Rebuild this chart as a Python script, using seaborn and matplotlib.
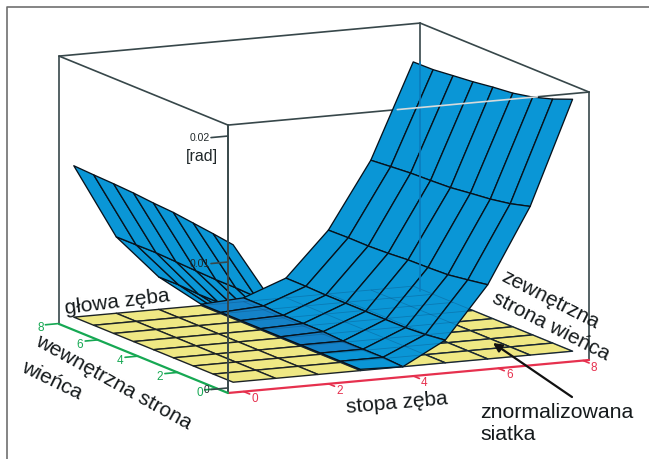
import numpy as np
import matplotlib
matplotlib.use("Agg")
import matplotlib.pyplot as plt
import seaborn as sns
from mpl_toolkits.mplot3d import proj3d

# dane
grid_x = [0, 1, 2, 3, 4, 5, 6, 7, 8]
grid_y = [0, 1, 2, 3, 4, 5, 6, 7, 8]
# kazdy wiersz to jedna wartosc x, kolejne kolumny y = 0..8
z_0 = [.01091, .01114, .01134, .01154, .01164, .01179, .01188, .01194, .01202]
z_1 = [.00569, .00584, .00590, .00590, .00596, .00603, .00610, .00608, .00607]
z_2 = [.00220, .00230, .00240, .00240, .00250, .00250, .00250, .00260, .00258]
z_3 = [.00010, .00010, .00010, .00010, .00010, .00010, .00010, .00010, .00010]
z_4 = [.00000, .00010, .00010, .00010, .00020, .00020, .00020, .00030, .00030]
z_5 = [.00180, .00160, .00150, .00150, .00150, .00150, .00150, .00155, .00156]
z_6 = [.00589, .00563, .00539, .00532, .00528, .00516, .00509, .00510, .00506]
z_7 = [.01180, .01137, .01109, .01091, .01071, .01063, .01057, .01044, .01030]
z_8 = [.02000, .01937, .01888, .01855, .01838, .01816, .01800, .01783, .01780]
x_ticks = [0, 2, 4, 6, 8]
y_ticks = [0, 2, 4, 6, 8]
z_ticks = [0, 0.01, 0.02]

BLUE = "#0a96d6"
DARK_BLUE = "#1482c8"
YELLOW = "#efe884"
GREEN = "#16a853"
RED = "#e6304e"
FRAME = "#37474a"

sns.set_theme(style="white")
plt.rcParams["font.family"] = ["Liberation Sans", "DejaVu Sans"]

W, H = 649, 459
fig = plt.figure(figsize=(W / 100, H / 100), dpi=100)
ax = fig.add_axes([0.1, 0.1, 0.6, 0.6 * W / H], projection="3d", computed_zorder=False)

xmin, xmax = -0.37, 8.14
ymin, ymax = -0.53, 7.95
zmin, zmax = -0.0004, 0.02087
ax.set_xlim(xmin, xmax)
ax.set_ylim(ymin, ymax)
ax.set_zlim(zmin, zmax)
ax.set_xticks([])
ax.set_yticks([])
ax.set_zticks([])
ax.set_box_aspect((399.5, 395, 273.1))
ax.view_init(elev=11.14, azim=-115.32)
ax.set_proj_type("ortho")
ax.set_axis_off()
ax.patch.set_alpha(0)


def to_px(x, y, z):
    xs, ys, _ = proj3d.proj_transform(x, y, z, ax.get_proj())
    px, py = ax.transData.transform((xs, ys))
    return px, H - py


# dopasowanie polozenia osi do prostopadloscianu na obrazku
for _ in range(3):
    fig.canvas.draw()
    left = to_px(xmin, ymax, zmin)
    right = to_px(xmax, ymin, zmin)
    scale = (589 - 59) / (right[0] - left[0])
    pos = ax.get_position(original=True)
    ax.set_position([pos.x0, pos.y0, pos.width * scale, pos.height * scale])
    fig.canvas.draw()
    front = to_px(xmin, ymin, zmin)
    pos = ax.get_position(original=True)
    ax.set_position([pos.x0 + (228 - front[0]) / W, pos.y0 - (393 - front[1]) / H,
                     pos.width, pos.height])

X, Y = np.meshgrid(grid_x, grid_y, indexing="ij")
Z = np.array([z_0, z_1, z_2, z_3, z_4, z_5, z_6, z_7, z_8])

# tylna czesc prostopadloscianu
box_kw = dict(color=FRAME, lw=1.2, zorder=1)
ax.plot([xmin, xmin], [ymax, ymax], [zmin, zmax], **box_kw)
ax.plot([xmax, xmax], [ymin, ymin], [zmin, zmax], **box_kw)
ax.plot([xmax, xmax], [ymax, ymax], [zmin, zmax], **box_kw)
ax.plot([xmin, xmax], [ymax, ymax], [zmax, zmax], **box_kw)
ax.plot([xmax, xmax], [ymin, ymax], [zmax, zmax], **box_kw)
ax.plot([xmin, xmin], [ymin, ymax], [zmax, zmax], **box_kw)
ax.plot([xmin, xmax], [ymin, ymin], [zmax, zmax], **box_kw)

# siatka na podstawie
ax.plot_surface(X, Y, np.zeros_like(Z), color=YELLOW, edgecolor="#1c2326", linewidth=1.0,
                shade=False, rstride=1, cstride=1, zorder=2)

# powierzchnia: lewe skrzydlo pod spodem, prawa czesc zaslania dolinke
surf_kw = dict(edgecolor="#07121c", linewidth=0.95, shade=False, rstride=1, cstride=1)
ax.plot_surface(X[:4], Y[:4], Z[:4], color=BLUE, zorder=3, **surf_kw)
colors = np.empty(X[3:].shape, dtype=object)
colors[:] = BLUE
colors[0, 2:8] = DARK_BLUE
ax.plot_surface(X[3:], Y[3:], Z[3:], facecolors=colors, zorder=3.5, **surf_kw)

# linie siatki przeswitujace przez powierzchnie
ax.plot_wireframe(X[3:], Y[3:], np.zeros_like(Z[3:]), color="#0b3a66", linewidth=0.6,
                  alpha=0.3, rstride=1, cstride=1, zorder=4)
ax.plot([xmax, xmax], [ymax, ymax], [zmin, 0.0178], color="#0a7cbd", lw=1.2, zorder=4)
ax.plot([3.62, 6.92], [ymin, ymin], [zmax, zmax], color="#d5dadb", lw=1.2, zorder=5)

# przednia krawedz i osie
ax.plot([xmin, xmin], [ymin, ymin], [zmin, zmax], color=FRAME, lw=1.4, zorder=6)
ax.plot([xmin, xmax], [ymin, ymin], [zmin, zmin], color=RED, lw=1.6, zorder=6)
ax.plot([xmin, xmin], [ymin, ymax], [zmin, zmin], color=GREEN, lw=1.6, zorder=6)

for t in x_ticks:
    ax.plot([t, t], [ymin, ymin - 0.3], [zmin, zmin], color=RED, lw=1.2, zorder=6)
    ax.text(t, ymin - 0.55, zmin - 0.0002, str(t), color=RED, fontsize=8.5, ha="center",
            va="center", zorder=7)
for t in y_ticks:
    ax.plot([xmin, xmin - 0.3], [t, t], [zmin, zmin], color=GREEN, lw=1.2, zorder=6)
    ax.text(xmin - 0.42, t, zmin - 0.00025, str(t), color=GREEN, fontsize=8.5, ha="center",
            va="center", zorder=7)
for t in z_ticks:
    ax.plot([xmin, xmin - 0.4], [ymin, ymin], [t, t], color=FRAME, lw=1.2, zorder=6)
    ax.text(xmin - 0.43, ymin, t, f"{t:g}" if t == 0 else f"{t:.2f}", color="#20282a",
            fontsize=7.5, ha="right", va="center", zorder=7)

# opisy i ramka we wspolrzednych obrazka
ov = fig.add_axes([0, 0, 1, 1], zorder=10)
ov.set_xlim(0, W)
ov.set_ylim(H, 0)
ov.set_xticks([])
ov.set_yticks([])
ov.axis("off")
ov.plot([7, 7, W], [H, 7, 7], color="#6f6f6f", lw=1.2, clip_on=False)

txt = dict(color="#151a1c", ha="center", va="center", rotation_mode="anchor")
ov.text(117, 302, "głowa zęba", fontsize=15, rotation=7, **txt)
ov.text(113, 382, "wewnętrzna strona", fontsize=15, rotation=-29, **txt)
ov.text(52, 380, "wieńca", fontsize=15, rotation=-26, **txt)
ov.text(397, 403, "stopa zęba", fontsize=15, rotation=5, **txt)
ov.text(550, 300, "zewnętrzna", fontsize=15, rotation=-27, **txt)
ov.text(551, 326, "strona wieńca", fontsize=15, rotation=-27, **txt)
ov.text(480, 412, "znormalizowana", fontsize=15.3, color="#151a1c", ha="left", va="center")
ov.text(480, 435, "siatka", fontsize=15.3, color="#151a1c", ha="left", va="center")
ov.text(202, 156, "[rad]", fontsize=11.5, color="#20282a", ha="center", va="center")
ov.annotate("", xy=(493, 343), xytext=(572, 397),
            arrowprops=dict(arrowstyle="-|>", color="#111111", lw=1.6, mutation_scale=13,
                            shrinkA=0, shrinkB=0))

fig.savefig("out.png", dpi=100)
